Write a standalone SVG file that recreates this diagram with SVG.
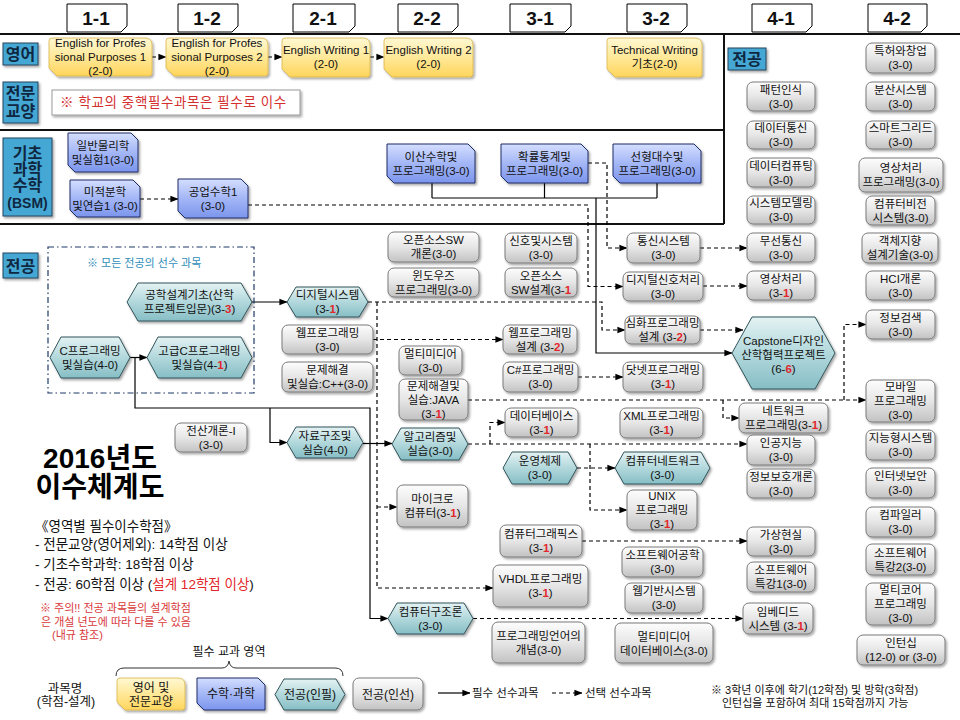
<svg xmlns="http://www.w3.org/2000/svg" width="960" height="720" viewBox="0 0 960 720">
<defs>
<linearGradient id="gGray" x1="0" y1="0" x2="0" y2="1"><stop offset="0" stop-color="#FDFDFD"/><stop offset="0.5" stop-color="#E6E6E6"/><stop offset="1" stop-color="#C2C2C2"/></linearGradient>
<linearGradient id="gTeal" x1="0" y1="0" x2="0" y2="1"><stop offset="0" stop-color="#E4F2F3"/><stop offset="0.5" stop-color="#B2D8DC"/><stop offset="1" stop-color="#86BEC5"/></linearGradient>
<linearGradient id="gBlue" x1="0" y1="0" x2="0" y2="1"><stop offset="0" stop-color="#D4DEFF"/><stop offset="0.5" stop-color="#A3B6F6"/><stop offset="1" stop-color="#7C95EC"/></linearGradient>
<linearGradient id="gYel" x1="0" y1="0" x2="0" y2="1"><stop offset="0" stop-color="#FFF8D2"/><stop offset="0.5" stop-color="#FFE898"/><stop offset="1" stop-color="#FFD55C"/></linearGradient>
<filter id="sh" x="-10%" y="-10%" width="125%" height="140%"><feDropShadow dx="1.5" dy="1.8" stdDeviation="1" flood-color="#000" flood-opacity="0.35"/></filter>
<marker id="ah" viewBox="0 0 10 10" refX="9.5" refY="5" markerWidth="8" markerHeight="8" markerUnits="userSpaceOnUse" orient="auto"><path d="M0,1 L10,5 L0,9 z" fill="#000"/></marker>
</defs>
<style>
text{font-family:"Liberation Sans","Noto Sans CJK KR",sans-serif;fill:#111}
.n text{font-size:11.5px;text-anchor:middle}
.r{fill:#E3262B;font-weight:bold}
.gr{fill:url(#gGray);stroke:#7A7A7A;stroke-width:1;filter:url(#sh)}
.te{fill:url(#gTeal);stroke:#31545A;stroke-width:1;filter:url(#sh)}
.bl{fill:url(#gBlue);stroke:#1F2F66;stroke-width:1;filter:url(#sh)}
.ye{fill:url(#gYel);stroke:#D9B44A;stroke-width:0.8;filter:url(#sh)}
.hd path{fill:#fff;stroke:#000;stroke-width:1}
.hd text{font-size:19px;font-weight:bold;text-anchor:middle}
.cat rect{fill:#45A7D3;stroke:#27445F;stroke-width:1;filter:url(#sh)}
.cat text{font-size:16px;font-weight:bold;text-anchor:middle;fill:#0F2741}
.fr{fill:none;stroke:#111;stroke-width:2}
.sol{fill:none;stroke:#000;stroke-width:1.2}
.dsh{fill:none;stroke:#000;stroke-width:1.2;stroke-dasharray:4 3}
.a{marker-end:url(#ah)}
.info{font-size:13.5px}
.note{font-size:11px;fill:#D9383A}
.lg text{font-size:12px;text-anchor:middle}
</style>

<!-- frame lines -->
<g id="frame">
<path class="fr" d="M0,34 H960 M0,130 H724 M0,224 H724 M724,34 V224"/>
</g>

<!-- semester headers -->
<g id="headers" class="hd">
<g id="h11"><path d="M67,4 H127 V26 L121,32 H67 Z"/><text x="96" y="25">1-1</text></g>
<g id="h12"><path d="M178,4 H238 V26 L232,32 H178 Z"/><text x="207" y="25">1-2</text></g>
<g id="h21"><path d="M293,4 H355 V26 L349,32 H293 Z"/><text x="323" y="25">2-1</text></g>
<g id="h22"><path d="M398,4 H458 V26 L452,32 H398 Z"/><text x="427" y="25">2-2</text></g>
<g id="h31"><path d="M510,4 H571 V26 L565,32 H510 Z"/><text x="540" y="25">3-1</text></g>
<g id="h32"><path d="M627,4 H687 V26 L681,32 H627 Z"/><text x="656" y="25">3-2</text></g>
<g id="h41"><path d="M752,4 H812 V26 L806,32 H752 Z"/><text x="781" y="25">4-1</text></g>
<g id="h42"><path d="M868,4 H927 V26 L921,32 H868 Z"/><text x="897" y="25">4-2</text></g>
</g>

<!-- category labels -->
<g id="categories" class="cat">
<g id="cat-eng"><rect x="3" y="43" width="35" height="22"/><text x="20.5" y="60">영어</text></g>
<g id="cat-gen"><rect x="3" y="82" width="35" height="41"/><text x="20.5" y="99">전문</text><text x="20.5" y="117">교양</text></g>
<g id="cat-bsm"><rect x="3" y="138" width="49" height="78"/><text x="27.5" y="159">기초</text><text x="27.5" y="175">과학</text><text x="27.5" y="191">수학</text><text x="27.5" y="208" style="font-size:14px">(BSM)</text></g>
<g id="cat-major"><rect x="3" y="253" width="35" height="25"/><text x="20.5" y="272">전공</text></g>
<g id="cat-major2"><rect x="728" y="48" width="38" height="22"/><text x="747" y="65">전공</text></g>
</g>

<!-- general education note -->
<g id="gen-note">
<rect x="52" y="90" width="248" height="25" fill="#fff" stroke="#999" stroke-width="1" filter="url(#sh)"/>
<text x="60" y="107" style="font-size:13.5px;fill:#D32F2F;letter-spacing:0.6px">※ 학교의 중핵필수과목은 필수로 이수</text>
</g>

<!-- connectors -->
<g id="connectors">
<path class="sol a" d="M252,302 H287"/>
<path class="sol a" d="M130,357.5 H147"/>
<path class="sol a" d="M135,357.5 V408 H370 V618.5 H388"/>
<path class="sol a" d="M270,408 V442.5 H287"/>
<path class="sol a" d="M363,443.5 H392"/>
<path class="sol" d="M432,183 V198 M544.5,183 V198 M657,183 V198 M432,198 H657"/>
<path class="sol a" d="M596,198 V353 H732"/>

<path class="dsh a" d="M152,57 H166"/>
<path class="dsh a" d="M268,57 H282"/>
<path class="dsh a" d="M370,57 H384"/>
<path class="dsh a" d="M140,199 H178"/>
<path class="dsh a" d="M248,205 H588 V286.5 H623"/>
<path class="dsh a" d="M588,163 H607 V248 H627"/>
<path class="dsh a" d="M700,248 H747"/>
<path class="dsh a" d="M703,286 H747"/>
<path class="dsh a" d="M368,302 H602 V330 H625"/>
<path class="dsh a" d="M377,302 V588 H493"/>
<path class="dsh a" d="M377,507 H397"/>
<path class="dsh a" d="M373,339.5 H503"/>
<path class="dsh a" d="M700,330 H743"/>
<path class="dsh a" d="M578,377 H623"/>
<path class="dsh a" d="M468,400 H866"/>
<path class="dsh a" d="M844,400 V324.5 H866"/>
<path class="dsh a" d="M723,400 V418 H739"/>
<path class="dsh a" d="M468,444 H747"/>
<path class="dsh a" d="M490,444 V422.5 H505"/>
<path class="dsh a" d="M590,444 V510 H627"/>
<path class="dsh a" d="M577,468 H615"/>
<path class="dsh a" d="M582,541 H747"/>
<path class="dsh a" d="M473,618.5 H743"/>
</g>

<!-- English / general nodes -->
<g class="n">
<g id="e1"><path class="ye" d="M52,38 H145 Q152,38 152,45 V73 Q152,76 149,76 H57 L49,68 V41 Q49,38 52,38 Z"/><text x="100.5" y="47">English for Profes</text><text x="100.5" y="61">sional Purposes 1</text><text x="100.5" y="75">(2-0)</text></g>
<g id="e2"><path class="ye" d="M169,38 H261 Q268,38 268,45 V73 Q268,76 265,76 H174 L166,68 V41 Q166,38 169,38 Z"/><text x="217" y="47">English for Profes</text><text x="217" y="61">sional Purposes 2</text><text x="217" y="75">(2-0)</text></g>
<g id="e3"><path class="ye" d="M285,38 H363 Q370,38 370,45 V74 Q370,77 367,77 H290 L282,69 V41 Q282,38 285,38 Z"/><text x="326" y="54">English Writing 1</text><text x="326" y="68">(2-0)</text></g>
<g id="e4"><path class="ye" d="M387,38 H466 Q473,38 473,45 V74 Q473,77 470,77 H392 L384,69 V41 Q384,38 387,38 Z"/><text x="428.5" y="54">English Writing 2</text><text x="428.5" y="68">(2-0)</text></g>
<g id="e5"><path class="ye" d="M610,38 H695 Q702,38 702,45 V74 Q702,77 699,77 H615 L607,69 V41 Q607,38 610,38 Z"/><text x="654.5" y="54">Technical Writing</text><text x="654.5" y="68">기초(2-0)</text></g>

<!-- BSM nodes -->
<g id="b-phys"><path class="bl" d="M68,133 H131 L138,140 V172 H75 L68,165 Z"/><text x="103" y="149.5">일반물리학</text><text x="103" y="163.5">및실험1(3-0)</text></g>
<g id="b-calc"><path class="bl" d="M70,180 H133 L140,187 V217 H77 L70,210 Z"/><text x="105" y="195.5">미적분학</text><text x="105" y="209.5">및연습1 (3-0)</text></g>
<g id="b-engmath"><path class="bl" d="M178,179 H241 L248,186 V218 H185 L178,211 Z"/><text x="213" y="195.5">공업수학1</text><text x="213" y="209.5">(3-0)</text></g>
<g id="b-discrete"><path class="bl" d="M387,144 H468 L475,151 V183 H394 L387,176 Z"/><text x="431" y="160.5">이산수학및</text><text x="431" y="174.5">프로그래밍(3-0)</text></g>
<g id="b-prob"><path class="bl" d="M501,144 H581 L588,151 V183 H508 L501,176 Z"/><text x="544.5" y="160.5">확률통계및</text><text x="544.5" y="174.5">프로그래밍(3-0)</text></g>
<g id="b-linalg"><path class="bl" d="M613,144 H694 L701,151 V183 H620 L613,176 Z"/><text x="657" y="160.5">선형대수및</text><text x="657" y="174.5">프로그래밍(3-0)</text></g>

<!-- required major (hexagons) -->
<g id="t-engdesign"><polygon class="te" points="127,302 138,283 241,283 252,302 241,321 138,321"/><text x="189.5" y="299">공학설계기초(산학</text><text x="189.5" y="313">프로젝트입문)(3-<tspan class="r">3</tspan>)</text></g>
<g id="t-c"><polygon class="te" points="50,357.5 61,337 119,337 130,357.5 119,378 61,378"/><text x="90" y="354.5">C프로그래밍</text><text x="90" y="368.5">및실습(4-0)</text></g>
<g id="t-advc"><polygon class="te" points="147,357.5 158,337 241,337 252,357.5 241,378 158,378"/><text x="199.5" y="354.5">고급C프로그래밍</text><text x="199.5" y="368.5">및실습(4-<tspan class="r">1</tspan>)</text></g>
<g id="t-digital"><polygon class="te" points="287,302 296,287 359,287 368,302 359,317 296,317"/><text x="327.5" y="299">디지털시스템</text><text x="327.5" y="313">(3-<tspan class="r">1</tspan>)</text></g>
<g id="t-ds"><polygon class="te" points="287,442.5 296,427 354,427 363,442.5 354,458 296,458"/><text x="325" y="439.5">자료구조및</text><text x="325" y="453.5">실습(4-0)</text></g>
<g id="t-algo"><polygon class="te" points="392,444 401,428 459,428 468,444 459,460 401,460"/><text x="430" y="441">알고리즘및</text><text x="430" y="455">실습(3-0)</text></g>
<g id="t-arch"><polygon class="te" points="388,618.5 397,603 464,603 473,618.5 464,634 397,634"/><text x="430.5" y="615.5">컴퓨터구조론</text><text x="430.5" y="629.5">(3-0)</text></g>
<g id="t-os"><polygon class="te" points="503,468 512,452 568,452 577,468 568,484 512,484"/><text x="540" y="465">운영체제</text><text x="540" y="479">(3-0)</text></g>
<g id="t-net"><polygon class="te" points="615,468 624,452 701,452 710,468 701,484 624,484"/><text x="662.5" y="465">컴퓨터네트워크</text><text x="662.5" y="479">(3-0)</text></g>
<g id="t-capstone"><polygon class="te" points="732,353 752,317 815,317 835,353 815,389 752,389"/><text x="783.5" y="344.5">Capstone디자인</text><text x="783.5" y="358.5">산학협력프로젝트</text><text x="783.5" y="372.5">(6-<tspan class="r">6</tspan>)</text></g>

<!-- elective major (gray) -->
<g id="g-intro"><rect class="gr" x="175" y="423" width="72" height="29" rx="6"/><text x="211" y="434.5">전산개론-I</text><text x="211" y="448.5">(3-0)</text></g>
<g id="g-webprog"><rect class="gr" x="282" y="325" width="91" height="29" rx="6"/><text x="327.5" y="336.5">웹프로그래밍</text><text x="327.5" y="350.5">(3-0)</text></g>
<g id="g-cpp"><rect class="gr" x="282" y="362" width="91" height="30" rx="6"/><text x="327.5" y="374">문제해결</text><text x="327.5" y="388">및실습:C++(3-0)</text></g>

<g id="g-ossintro"><rect class="gr" x="388" y="232" width="91" height="30" rx="6"/><text x="433.5" y="244">오픈소스SW</text><text x="433.5" y="258">개론(3-0)</text></g>
<g id="g-windows"><rect class="gr" x="388" y="268" width="91" height="29" rx="6"/><text x="433.5" y="279.5">윈도우즈</text><text x="433.5" y="293.5">프로그래밍(3-0)</text></g>
<g id="g-mm"><rect class="gr" x="399" y="346" width="63" height="29" rx="6"/><text x="430.5" y="357.5">멀티미디어</text><text x="430.5" y="371.5">(3-0)</text></g>
<g id="g-java"><rect class="gr" x="399" y="379" width="69" height="41" rx="6"/><text x="433.5" y="389.5">문제해결및</text><text x="433.5" y="403.5">실습:JAVA</text><text x="433.5" y="417.5">(3-<tspan class="r">1</tspan>)</text></g>
<g id="g-micro"><rect class="gr" x="397" y="485" width="71" height="42" rx="6"/><text x="432.5" y="503">마이크로</text><text x="432.5" y="517">컴퓨터(3-<tspan class="r">1</tspan>)</text></g>

<g id="g-signal"><rect class="gr" x="505" y="233" width="72" height="30" rx="6"/><text x="541" y="245">신호및시스템</text><text x="541" y="259">(3-0)</text></g>
<g id="g-ossdesign"><rect class="gr" x="505" y="268" width="72" height="29" rx="6"/><text x="541" y="279.5">오픈소스</text><text x="541" y="293.5">SW설계(3-<tspan class="r">1</tspan></text></g>
<g id="g-webdesign"><rect class="gr" x="503" y="325" width="74" height="29" rx="6"/><text x="540" y="336.5">웹프로그래밍</text><text x="540" y="350.5">설계 (3-<tspan class="r">2</tspan>)</text></g>
<g id="g-csharp"><rect class="gr" x="503" y="362" width="75" height="30" rx="6"/><text x="540.5" y="374">C#프로그래밍</text><text x="540.5" y="388">(3-0)</text></g>
<g id="g-db"><rect class="gr" x="505" y="408" width="73" height="29" rx="6"/><text x="541.5" y="419.5">데이터베이스</text><text x="541.5" y="433.5">(3-<tspan class="r">1</tspan>)</text></g>
<g id="g-cg"><rect class="gr" x="500" y="525" width="82" height="32" rx="6"/><text x="541" y="538">컴퓨터그래픽스</text><text x="541" y="552">(3-<tspan class="r">1</tspan>)</text></g>
<g id="g-vhdl"><rect class="gr" x="493" y="565" width="95" height="42" rx="6"/><text x="540.5" y="583">VHDL프로그래밍</text><text x="540.5" y="597">(3-<tspan class="r">1</tspan>)</text></g>
<g id="g-plc"><rect class="gr" x="492" y="622" width="93" height="41" rx="6"/><text x="538.5" y="639.5">프로그래밍언어의</text><text x="538.5" y="653.5">개념(3-0)</text></g>

<g id="g-commsys"><rect class="gr" x="627" y="233" width="73" height="30" rx="6"/><text x="663.5" y="245">통신시스템</text><text x="663.5" y="259">(3-0)</text></g>
<g id="g-dsp"><rect class="gr" x="623" y="272" width="80" height="29" rx="6"/><text x="663" y="283.5">디지털신호처리</text><text x="663" y="297.5">(3-0)</text></g>
<g id="g-advprog"><rect class="gr" x="625" y="316" width="75" height="28" rx="6"/><text x="662.5" y="327">심화프로그래밍</text><text x="662.5" y="341">설계 (3-<tspan class="r">2</tspan>)</text></g>
<g id="g-dotnet"><rect class="gr" x="623" y="362" width="80" height="30" rx="6"/><text x="663" y="374">닷넷프로그래밍</text><text x="663" y="388">(3-<tspan class="r">1</tspan>)</text></g>
<g id="g-xml"><rect class="gr" x="620" y="408" width="83" height="30" rx="6"/><text x="661.5" y="420">XML프로그래밍</text><text x="661.5" y="434">(3-<tspan class="r">1</tspan>)</text></g>
<g id="g-unix"><rect class="gr" x="627" y="490" width="70" height="40" rx="6"/><text x="662" y="500">UNIX</text><text x="662" y="514">프로그래밍</text><text x="662" y="528">(3-<tspan class="r">1</tspan>)</text></g>
<g id="g-se"><rect class="gr" x="622" y="547" width="81" height="30" rx="6"/><text x="662.5" y="559">소프트웨어공학</text><text x="662.5" y="573">(3-0)</text></g>
<g id="g-webbased"><rect class="gr" x="625" y="583" width="78" height="30" rx="6"/><text x="664" y="595">웹기반시스템</text><text x="664" y="609">(3-0)</text></g>
<g id="g-mmdb"><rect class="gr" x="615" y="623" width="98" height="40" rx="6"/><text x="664" y="641">멀티미디어</text><text x="664" y="655">데이터베이스(3-0)</text></g>

<g id="g-pattern"><rect class="gr" x="747" y="82" width="68" height="29" rx="6"/><text x="781" y="93.5">패턴인식</text><text x="781" y="107.5">(3-0)</text></g>
<g id="g-datacomm"><rect class="gr" x="747" y="121" width="68" height="28" rx="6"/><text x="781" y="132">데이터통신</text><text x="781" y="146">(3-0)</text></g>
<g id="g-datacomp"><rect class="gr" x="747" y="158" width="68" height="29" rx="6"/><text x="781" y="169.5">데이터컴퓨팅</text><text x="781" y="183.5">(3-0)</text></g>
<g id="g-sysmodel"><rect class="gr" x="747" y="196" width="68" height="28" rx="6"/><text x="781" y="207">시스템모델링</text><text x="781" y="221">(3-0)</text></g>
<g id="g-wireless"><rect class="gr" x="747" y="233" width="68" height="29" rx="6"/><text x="781" y="244.5">무선통신</text><text x="781" y="258.5">(3-0)</text></g>
<g id="g-image"><rect class="gr" x="747" y="271" width="68" height="29" rx="6"/><text x="781" y="282.5">영상처리</text><text x="781" y="296.5">(3-<tspan class="r">1</tspan>)</text></g>
<g id="g-netprog"><rect class="gr" x="739" y="403" width="89" height="30" rx="6"/><text x="783.5" y="415">네트워크</text><text x="783.5" y="429">프로그래밍(3-<tspan class="r">1</tspan>)</text></g>
<g id="g-ai"><rect class="gr" x="747" y="435" width="68" height="30" rx="6"/><text x="781" y="447">인공지능</text><text x="781" y="461">(3-0)</text></g>
<g id="g-security"><rect class="gr" x="747" y="469" width="68" height="29" rx="6"/><text x="781" y="480.5">정보보호개론</text><text x="781" y="494.5">(3-0)</text></g>
<g id="g-vr"><rect class="gr" x="747" y="527" width="68" height="29" rx="6"/><text x="781" y="538.5">가상현실</text><text x="781" y="552.5">(3-0)</text></g>
<g id="g-swsp1"><rect class="gr" x="747" y="562" width="68" height="30" rx="6"/><text x="781" y="574">소프트웨어</text><text x="781" y="588">특강1(3-0)</text></g>
<g id="g-embedded"><rect class="gr" x="743" y="603" width="70" height="31" rx="6"/><text x="778" y="615.5">임베디드</text><text x="778" y="629.5">시스템 (3-<tspan class="r">1</tspan>)</text></g>

<g id="g-patent"><rect class="gr" x="866" y="43" width="69" height="30" rx="6"/><text x="900.5" y="55">특허와창업</text><text x="900.5" y="69">(3-0)</text></g>
<g id="g-dist"><rect class="gr" x="866" y="82" width="69" height="29" rx="6"/><text x="900.5" y="93.5">분산시스템</text><text x="900.5" y="107.5">(3-0)</text></g>
<g id="g-smart"><rect class="gr" x="866" y="121" width="69" height="28" rx="6"/><text x="900.5" y="132">스마트그리드</text><text x="900.5" y="146">(3-0)</text></g>
<g id="g-imgprog"><rect class="gr" x="859" y="158" width="84" height="34" rx="6"/><text x="901" y="172">영상처리</text><text x="901" y="186">프로그래밍(3-0)</text></g>
<g id="g-vision"><rect class="gr" x="866" y="196" width="69" height="29" rx="6"/><text x="900.5" y="207.5">컴퓨터비전</text><text x="900.5" y="221.5">시스템(3-0)</text></g>
<g id="g-oop"><rect class="gr" x="862" y="233" width="76" height="30" rx="6"/><text x="900" y="245">객체지향</text><text x="900" y="259">설계기술(3-0)</text></g>
<g id="g-hci"><rect class="gr" x="866" y="271" width="69" height="29" rx="6"/><text x="900.5" y="282.5">HCI개론</text><text x="900.5" y="296.5">(3-0)</text></g>
<g id="g-ir"><rect class="gr" x="866" y="310" width="69" height="29" rx="6"/><text x="900.5" y="321.5">정보검색</text><text x="900.5" y="335.5">(3-0)</text></g>
<g id="g-mobile"><rect class="gr" x="866" y="380" width="69" height="42" rx="6"/><text x="900.5" y="391">모바일</text><text x="900.5" y="405">프로그래밍</text><text x="900.5" y="419">(3-0)</text></g>
<g id="g-intel"><rect class="gr" x="866" y="430" width="69" height="30" rx="6"/><text x="900.5" y="442">지능형시스템</text><text x="900.5" y="456">(3-0)</text></g>
<g id="g-inetsec"><rect class="gr" x="866" y="468" width="69" height="30" rx="6"/><text x="900.5" y="480">인터넷보안</text><text x="900.5" y="494">(3-0)</text></g>
<g id="g-compiler"><rect class="gr" x="866" y="507" width="69" height="30" rx="6"/><text x="900.5" y="519">컴파일러</text><text x="900.5" y="533">(3-0)</text></g>
<g id="g-swsp2"><rect class="gr" x="866" y="544" width="69" height="31" rx="6"/><text x="900.5" y="556.5">소프트웨어</text><text x="900.5" y="570.5">특강2(3-0)</text></g>
<g id="g-multicore"><rect class="gr" x="866" y="583" width="69" height="42" rx="6"/><text x="900.5" y="594">멀티코어</text><text x="900.5" y="608">프로그래밍</text><text x="900.5" y="622">(3-0)</text></g>
<g id="g-intern"><rect class="gr" x="857" y="635" width="88" height="30" rx="6"/><text x="901" y="647">인턴십</text><text x="901" y="661">(12-0) or (3-0)</text></g>
</g>

<!-- prerequisite box -->
<g id="prereq-box">
<rect x="48" y="247" width="206" height="146" fill="none" stroke="#1F3A68" stroke-width="1.2" stroke-dasharray="6 3 1.5 3"/>
<text x="87" y="267" style="font-size:11px;fill:#2F8DB8">※ 모든 전공의 선수 과목</text>
</g>

<!-- title and info -->
<g id="title">
<text x="100" y="468" style="font-size:28px;font-weight:bold;text-anchor:middle;fill:#000">2016년도</text>
<text x="100" y="497" style="font-size:28px;font-weight:bold;text-anchor:middle;fill:#000">이수체계도</text>
</g>
<g id="credits">
<text class="info" x="35" y="531">《영역별 필수이수학점》</text>
<text class="info" x="35" y="549">- 전문교양(영어제외): 14학점 이상</text>
<text class="info" x="35" y="569">- 기초수학과학: 18학점 이상</text>
<text class="info" x="35" y="589">- 전공: 60학점 이상 (<tspan fill="#E3262B">설계 12학점 이상</tspan>)</text>
<text class="note" x="40" y="612">※ 주의!! 전공 과목들의 설계학점</text>
<text class="note" x="41" y="626">은 개설 년도에 따라 다를 수 있음</text>
<text class="note" x="52" y="639">(내규 참조)</text>
</g>

<!-- legend -->
<g id="legend" class="lg">
<text x="229" y="656">필수 교과 영역</text>
<path d="M116,676 Q116,668 124,668 H222 Q228,668 229,661 Q230,668 236,668 H335 Q343,668 343,676" fill="none" stroke="#333" stroke-width="1"/>
<text x="65" y="693" style="font-size:12.5px">과목명</text>
<text x="66" y="706" style="font-size:12.5px">(학점-설계)</text>
<g id="lg-yel"><path class="ye" d="M120,678 H178 Q185,678 185,685 V707 Q185,710 182,710 H125 L117,702 V681 Q117,678 120,678 Z"/><text x="151" y="692">영어 및</text><text x="151" y="706">전문교양</text></g>
<g id="lg-blue"><path class="bl" d="M197,678 H258 L265,685 V710 H204 L197,703 Z"/><text x="231" y="698">수학·과학</text></g>
<g id="lg-teal"><polygon class="te" points="275,694.5 284,679 336,679 345,694.5 336,710 284,710"/><text x="310" y="699">전공(인필)</text></g>
<g id="lg-gray"><rect class="gr" x="353" y="678" width="70" height="32" rx="6"/><text x="388" y="699">전공(인선)</text></g>
<path class="sol a" d="M438,693 H470"/>
<text x="472" y="697" style="text-anchor:start;font-size:11.5px">필수 선수과목</text>
<path class="dsh a" d="M552,693 H582"/>
<text x="585" y="697" style="text-anchor:start;font-size:11.5px">선택 선수과목</text>
</g>

<g id="footnote">
<text x="711" y="694" style="font-size:11px">※ 3학년 이후에 학기(12학점) 및 방학(3학점)</text>
<text x="722" y="707" style="font-size:11px">인턴십을 포함하여 최대 15학점까지 가능</text>
</g>
</svg>
